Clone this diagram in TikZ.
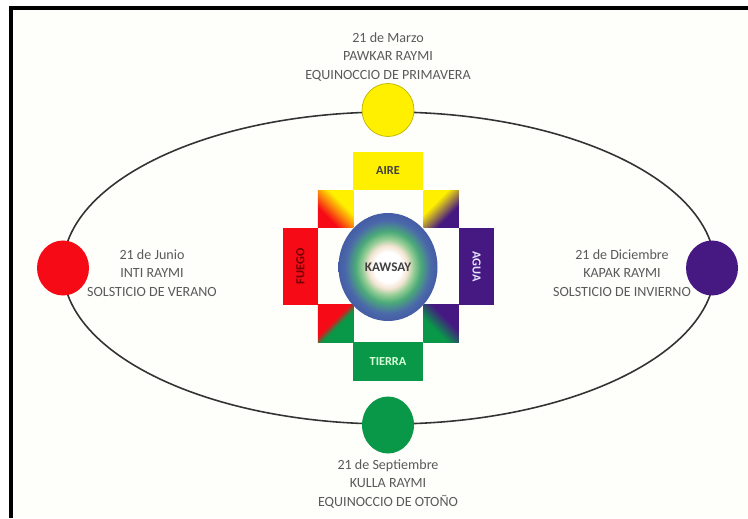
\documentclass[tikz,border=0pt]{standalone}
\usepackage{fontspec}
\setmainfont{Carlito}
\usetikzlibrary{shapes.geometric}

\definecolor{sunred}{RGB}{245,10,22}
\definecolor{sunyellow}{RGB}{255,240,0}
\definecolor{sunpurple}{RGB}{70,24,130}
\definecolor{sungreen}{RGB}{8,152,72}
\definecolor{paper}{RGB}{254,254,251}
\definecolor{labelgrey}{RGB}{90,90,90}
\definecolor{glowcream}{RGB}{243,228,210}
\definecolor{glowmint}{RGB}{150,205,150}
\definecolor{glowgreen}{RGB}{75,170,120}
\definecolor{glowblue}{RGB}{75,105,170}
\definecolor{glowrim}{RGB}{68,92,165}

% diagonal blends for the four small corner squares
\newcommand{\cornerfade}[5]{\pgfdeclareverticalshading{#1}{100bp}{color(0bp)=(#2); color(#4bp)=(#2); color(#5bp)=(#3); color(100bp)=(#3)}}
\cornerfade{fadeRedYellow}{sunred}{sunyellow}{34}{62}
\cornerfade{fadePurpleYellow}{sunpurple}{sunyellow}{36}{62}
\cornerfade{fadeGreenRed}{sungreen}{sunred}{45}{55}
\cornerfade{fadeGreenPurple}{sungreen}{sunpurple}{38}{60}

\pgfdeclareradialshading{kawsayglow}{\pgfpoint{0bp}{0bp}}{%
  color(0bp)=(white); color(7bp)=(white); color(10bp)=(glowcream);
  color(13bp)=(glowmint); color(16.5bp)=(glowgreen);
  color(21.5bp)=(glowblue); color(25bp)=(glowrim); color(50bp)=(glowrim)}

\tikzset{
  sun/.style={shape=ellipse,minimum width=1.04cm,minimum height=1.1cm,inner sep=0pt},
  datelabel/.style={align=center,text=labelgrey,font=\fontsize{8pt}{10.4pt}\selectfont},
  armbox/.style={inner sep=0pt,font=\fontsize{7pt}{8pt}\selectfont\bfseries},
  cornerbox/.style={inner sep=0pt,minimum width=0.71cm,minimum height=0.75cm}
}

\begin{document}
\begin{tikzpicture}
\useasboundingbox (0,0) rectangle (14.96,10.36);
\fill[white] (0,0) rectangle (14.96,10.36);
\fill[paper] (0.26,0) rectangle (14.96,10.16);
\draw[line width=0.08cm] (0.22,0)--(0.22,10.2)--(14.96,10.2);

% orbit and the four solstice/equinox discs
\node[shape=ellipse,draw=black!80,line width=0.9pt,minimum width=13.04cm,minimum height=6.24cm,inner sep=0pt] (orbit) at (7.78,5.0) {};
\node[sun,fill=sunyellow,draw=sunyellow!75!black,line width=0.4pt,minimum height=1.06cm] (marzo) at (7.76,8.16) {};
\node[sun,fill=sunred] (junio) at (1.26,5.0) {};
\node[sun,fill=sunpurple] (diciembre) at (14.24,5.0) {};
\node[sun,fill=sungreen,minimum height=1.14cm] (septiembre) at (7.76,1.86) {};

% chakana arms
\node[armbox,fill=sunyellow,text=black!75,minimum width=1.4cm,minimum height=0.76cm] (aire) at (7.76,6.94) {AIRE};
\node[armbox,fill=sungreen,text=white!85!green,minimum width=1.4cm,minimum height=0.78cm] (tierra) at (7.76,3.13) {TIERRA};
\node[armbox,fill=sunred,text=red!45!black,rotate=90,minimum width=1.54cm,minimum height=0.7cm] (fuego) at (6.01,5.03) {FUEGO};
\node[armbox,fill=sunpurple,text=white!90!blue,rotate=-90,minimum width=1.54cm,minimum height=0.7cm] (agua) at (9.53,5.03) {AGUA};

% corner squares
\node[cornerbox,shading=fadeRedYellow,shading angle=-45] (aireFuego) at (6.71,6.18) {};
\node[cornerbox,shading=fadePurpleYellow,shading angle=45] (aireAgua) at (8.82,6.18) {};
\node[cornerbox,shading=fadeGreenRed,shading angle=45] (tierraFuego) at (6.71,3.89) {};
\node[cornerbox,shading=fadeGreenPurple,shading angle=-45] (tierraAgua) at (8.82,3.89) {};

% centre
\node[shape=ellipse,shading=kawsayglow,inner sep=0pt,minimum width=1.98cm,minimum height=2.16cm,text=black!75,font=\fontsize{7.5pt}{8pt}\selectfont\bfseries] (kawsay) at (7.76,5.02) {KAWSAY};

\node[datelabel] (marzoText) at (7.76,9.22) {21 de Marzo\\PAWKAR RAYMI\\EQUINOCCIO DE PRIMAVERA};
\node[datelabel] (junioText) at (3.04,4.9) {21 de Junio\\INTI RAYMI\\SOLSTICIO DE VERANO};
\node[datelabel] (diciembreText) at (12.44,4.9) {21 de Diciembre\\KAPAK RAYMI\\SOLSTICIO DE INVIERNO};
\node[datelabel] (septiembreText) at (7.76,0.68) {21 de Septiembre\\KULLA RAYMI\\EQUINOCCIO DE OTOÑO};
\end{tikzpicture}
\end{document}
